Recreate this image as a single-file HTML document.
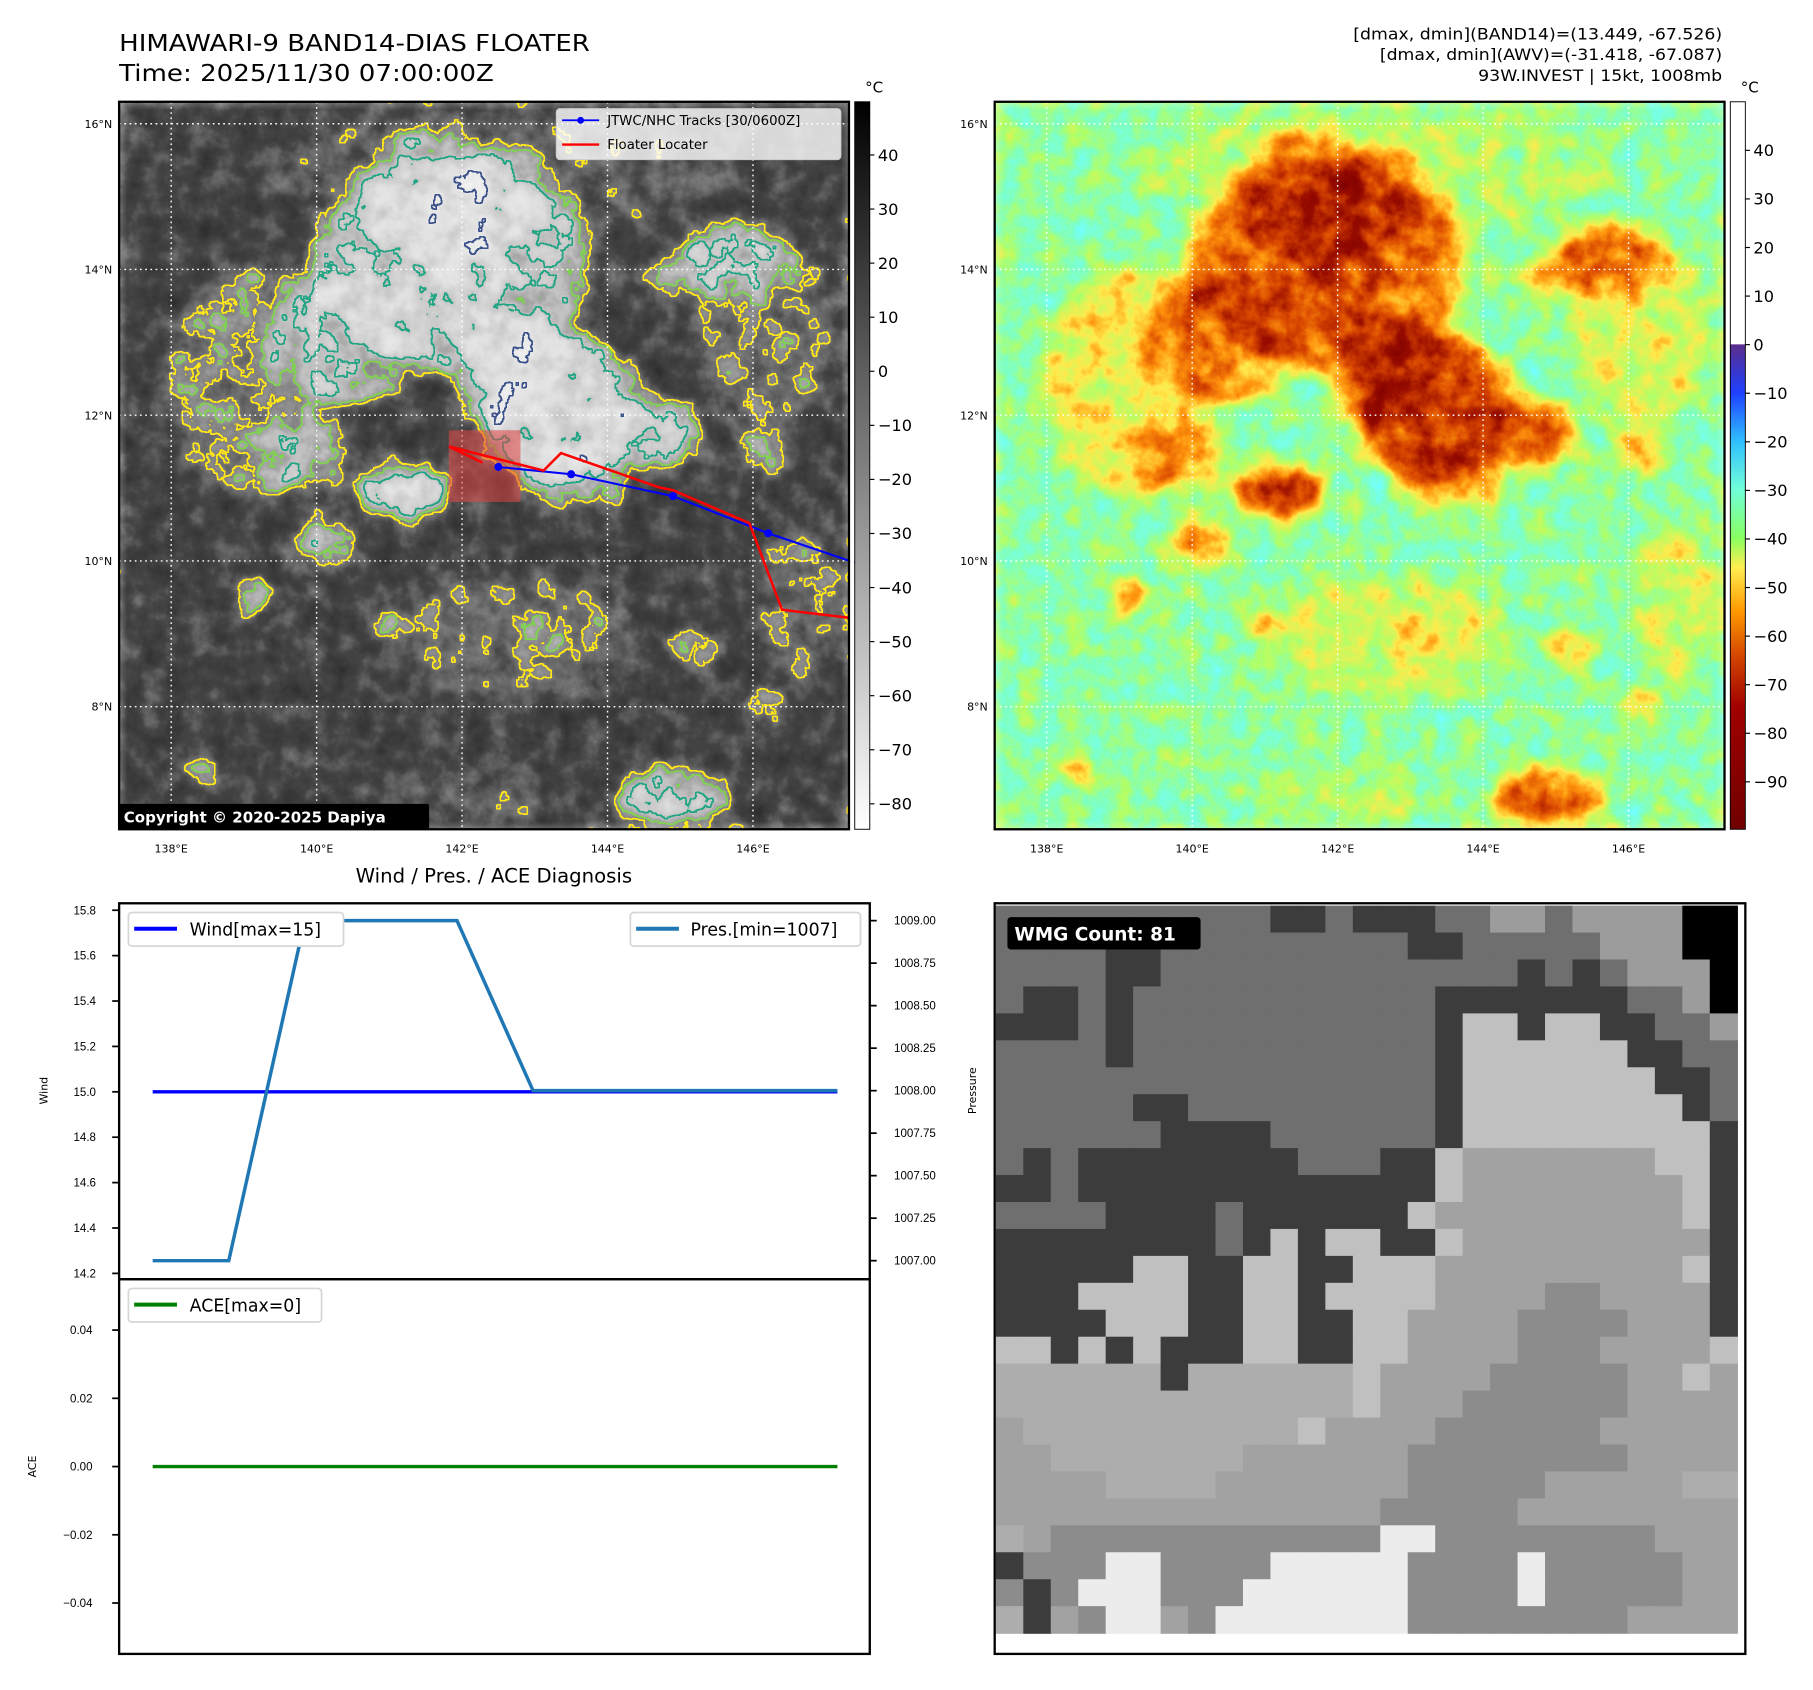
<!DOCTYPE html>
<html><head><meta charset="utf-8"><style>
html,body{margin:0;padding:0;background:#fff;}
svg{display:block;font-family:"DejaVu Sans","Liberation Sans",sans-serif;}
</style></head><body>
<svg id="root" width="1813" height="1690" viewBox="0 0 1567.5 1461.2" preserveAspectRatio="none" xmlns="http://www.w3.org/2000/svg">
<defs>
<linearGradient id="cbGray" x1="0" y1="0" x2="0" y2="1">
<stop offset="0" stop-color="#000"/><stop offset="1" stop-color="#fff"/>
</linearGradient>
<linearGradient id="cbColor" x1="0" y1="0" x2="0" y2="1">
<stop offset="0" stop-color="#fff"/><stop offset="0.333" stop-color="#fff"/>
<stop offset="0.334" stop-color="#5a2d8c"/><stop offset="0.4" stop-color="#1e40ff"/>
<stop offset="0.467" stop-color="#30c0ff"/><stop offset="0.533" stop-color="#70ffd8"/>
<stop offset="0.6" stop-color="#88ff60"/><stop offset="0.64" stop-color="#ffee50"/>
<stop offset="0.7" stop-color="#ff9a00"/><stop offset="0.767" stop-color="#d04000"/>
<stop offset="0.833" stop-color="#a00000"/><stop offset="1" stop-color="#700000"/>
</linearGradient>
<g id="field">
<rect x="0" y="0" width="631" height="629" fill="#000"/>
<g fill="#fff">
<ellipse cx="287" cy="142" rx="120" ry="90" fill-opacity="0.6"/>
<ellipse cx="267" cy="82" rx="60" ry="55" fill-opacity="0.5"/>
<ellipse cx="327" cy="82" rx="50" ry="45" fill-opacity="0.45"/>
<ellipse cx="197" cy="202" rx="70" ry="60" fill-opacity="0.45"/>
<ellipse cx="300" cy="150" rx="35" ry="40" fill-opacity="0.5"/>
<ellipse cx="377" cy="262" rx="70" ry="65" fill-opacity="0.75"/>
<ellipse cx="337" cy="232" rx="50" ry="45" fill-opacity="0.5"/>
<ellipse cx="397" cy="322" rx="45" ry="30" fill-opacity="0.5"/>
<ellipse cx="467" cy="287" rx="35" ry="30" fill-opacity="0.7"/>
<ellipse cx="247" cy="337" rx="40" ry="22" fill-opacity="0.8"/>
<ellipse cx="537" cy="137" rx="50" ry="30" fill-opacity="0.45"/>
<ellipse cx="487" cy="152" rx="30" ry="25" fill-opacity="0.4"/>
<ellipse cx="517" cy="122" rx="25" ry="18" fill-opacity="0.4"/>
<ellipse cx="557" cy="302" rx="20" ry="20" fill-opacity="0.45"/>
<ellipse cx="477" cy="602" rx="50" ry="25" fill-opacity="0.65"/>
<ellipse cx="117" cy="427" rx="15" ry="12" fill-opacity="0.8"/>
<ellipse cx="72" cy="577" rx="14" ry="10" fill-opacity="0.7"/>
<ellipse cx="157" cy="307" rx="40" ry="30" fill-opacity="0.4"/>
<ellipse cx="177" cy="382" rx="30" ry="20" fill-opacity="0.5"/>
<ellipse cx="367" cy="462" rx="15" ry="12" fill-opacity="0.45"/>
<ellipse cx="497" cy="472" rx="20" ry="15" fill-opacity="0.45"/>
<ellipse cx="227" cy="452" rx="15" ry="10" fill-opacity="0.4"/>
<ellipse cx="557" cy="522" rx="15" ry="12" fill-opacity="0.45"/>
<ellipse cx="120" cy="242" rx="80" ry="100" fill-opacity="0.3"/>
<ellipse cx="340" cy="462" rx="110" ry="55" fill-opacity="0.22"/>
<ellipse cx="560" cy="200" rx="60" ry="80" fill-opacity="0.25"/>
<ellipse cx="590" cy="430" rx="40" ry="70" fill-opacity="0.22"/>
<ellipse cx="300" cy="600" rx="80" ry="25" fill-opacity="0.15"/>
<ellipse cx="330" cy="60" rx="200" ry="60" fill-opacity="0.15"/>
</g>
</g>
<filter id="fGray" filterUnits="userSpaceOnUse" x="0" y="0" width="631" height="629" color-interpolation-filters="sRGB">
<feGaussianBlur in="SourceGraphic" stdDeviation="8" result="b"/>
<feTurbulence type="fractalNoise" baseFrequency="0.05" numOctaves="4" seed="3" result="n0"/>
<feColorMatrix in="n0" type="matrix" values="1 0 0 0 0 1 0 0 0 0 1 0 0 0 0 0 0 0 0 1" result="n"/>
<feComposite in="b" in2="n" operator="arithmetic" k1="0" k2="0.72" k3="0.45" k4="-0.04" result="f"/>
<feComponentTransfer in="f" result="g">
<feFuncR type="table" tableValues="0.18 0.27 0.5 0.75 0.88 0.95"/>
<feFuncG type="table" tableValues="0.18 0.27 0.5 0.75 0.88 0.95"/>
<feFuncB type="table" tableValues="0.18 0.27 0.5 0.75 0.88 0.95"/>
</feComponentTransfer>
<feColorMatrix in="f" type="matrix" values="0 0 0 0 0 0 0 0 0 0 0 0 0 0 0 1 0 0 0 0" result="fa"/>
<feComponentTransfer in="fa" result="m1"><feFuncA type="discrete" tableValues="0 0 0 0 0 0 0 0 1 1 1 1 1 1 1 1 1 1 1 1"/></feComponentTransfer>
<feMorphology in="m1" operator="dilate" radius="1.3" result="d1"/>
<feComposite in="d1" in2="m1" operator="out" result="r1"/>
<feFlood flood-color="#ffe619"/><feComposite in2="r1" operator="in" result="c1"/>
<feComponentTransfer in="fa" result="m2"><feFuncA type="discrete" tableValues="0 0 0 0 0 0 0 0 0 0 1 1 1 1 1 1 1 1 1 1"/></feComponentTransfer>
<feMorphology in="m2" operator="dilate" radius="1.1" result="d2"/>
<feComposite in="d2" in2="m2" operator="out" result="r2"/>
<feFlood flood-color="#7fd34e"/><feComposite in2="r2" operator="in" result="c2"/>
<feComponentTransfer in="fa" result="m3"><feFuncA type="discrete" tableValues="0 0 0 0 0 0 0 0 0 0 0 0 0 1 1 1 1 1 1 1"/></feComponentTransfer>
<feMorphology in="m3" operator="dilate" radius="1.1" result="d3"/>
<feComposite in="d3" in2="m3" operator="out" result="r3"/>
<feFlood flood-color="#21a585"/><feComposite in2="r3" operator="in" result="c3"/>
<feComponentTransfer in="fa" result="m4"><feFuncA type="discrete" tableValues="0 0 0 0 0 0 0 0 0 0 0 0 0 0 0 0 0 0 1 1"/></feComponentTransfer>
<feMorphology in="m4" operator="dilate" radius="1.1" result="d4"/>
<feComposite in="d4" in2="m4" operator="out" result="r4"/>
<feFlood flood-color="#3b528b"/><feComposite in2="r4" operator="in" result="c4"/>
<feMerge><feMergeNode in="g"/><feMergeNode in="c1"/><feMergeNode in="c2"/><feMergeNode in="c3"/><feMergeNode in="c4"/></feMerge>
</filter>
<filter id="fColor" filterUnits="userSpaceOnUse" x="0" y="0" width="631" height="629" color-interpolation-filters="sRGB">
<feGaussianBlur in="SourceGraphic" stdDeviation="8" result="b"/>
<feTurbulence type="fractalNoise" baseFrequency="0.05" numOctaves="4" seed="3" result="n0"/>
<feColorMatrix in="n0" type="matrix" values="1 0 0 0 0 1 0 0 0 0 1 0 0 0 0 0 0 0 0 1" result="n"/>
<feComposite in="b" in2="n" operator="arithmetic" k1="0" k2="0.72" k3="0.45" k4="-0.04" result="f"/>
<feComponentTransfer in="f">
<feFuncR type="table" tableValues="0.45 0.5 0.7 1 1 0.85 0.6 0.5"/>
<feFuncG type="table" tableValues="1 1 1 0.92 0.58 0.28 0.05 0"/>
<feFuncB type="table" tableValues="1 0.75 0.4 0.3 0.05 0 0 0"/>
</feComponentTransfer>
</filter>
</defs>

<text x="103" y="44" font-size="20" textLength="407" lengthAdjust="spacingAndGlyphs" fill="#000">HIMAWARI-9 BAND14-DIAS FLOATER</text>
<text x="103" y="70" font-size="20" textLength="324" lengthAdjust="spacingAndGlyphs" fill="#000">Time: 2025/11/30 07:00:00Z</text>
<g font-size="13.5" fill="#000">
<text x="1170" y="34" textLength="319" lengthAdjust="spacingAndGlyphs">[dmax, dmin](BAND14)=(13.449, -67.526)</text>
<text x="1193" y="52" textLength="296" lengthAdjust="spacingAndGlyphs">[dmax, dmin](AWV)=(-31.418, -67.087)</text>
<text x="1278" y="70" textLength="211" lengthAdjust="spacingAndGlyphs">93W.INVEST | 15kt, 1008mb</text>
</g>

<g transform="translate(103,88)">
<g filter="url(#fGray)"><use href="#field"/></g>
<g id="gridL" stroke="#fff" stroke-width="1.2" stroke-dasharray="1.5 3"></g>
</g>
<rect x="388" y="372" width="62" height="62" fill="rgba(225,70,70,0.55)"/>
<g id="tracks"></g>
<rect x="103" y="88" width="631" height="629" fill="none" stroke="#000" stroke-width="2"/>
<g>
<rect x="481" y="94" width="246" height="44" rx="3" fill="#fff" fill-opacity="0.8" stroke="#ccc"/>
<line x1="486" y1="104" x2="518" y2="104" stroke="#00f" stroke-width="1.5"/><circle cx="502" cy="104" r="3" fill="#00f"/>
<text x="525" y="108" font-size="11.5">JTWC/NHC Tracks [30/0600Z]</text>
<line x1="486" y1="125" x2="518" y2="125" stroke="#f00" stroke-width="2"/>
<text x="525" y="129" font-size="11.5">Floater Locater</text>
</g>
<g>
<rect x="103" y="695" width="268" height="22" rx="2" fill="#000"/>
<text x="107" y="711" font-size="13" font-weight="bold" fill="#fff">Copyright © 2020-2025 Dapiya</text>
</g>

<g transform="translate(860,88)">
<g filter="url(#fColor)"><use href="#field"/></g>
<g id="gridR" stroke="#fff" stroke-width="1.2" stroke-dasharray="1.5 3"></g>
</g>
<rect x="860" y="88" width="631" height="629" fill="none" stroke="#000" stroke-width="2"/>

<rect x="739" y="88" width="13" height="629" fill="url(#cbGray)" stroke="#000" stroke-width="0.8"/>
<text x="748" y="80" font-size="13">°C</text>
<rect x="1496" y="88" width="13" height="629" fill="url(#cbColor)" stroke="#000" stroke-width="0.8"/>
<text x="1505" y="80" font-size="13">°C</text>
<g id="cbTicks" font-size="14" fill="#000"></g>
<g id="mapLabels" font-size="9.5" fill="#000"></g>

<text x="427" y="763" font-size="17" text-anchor="middle">Wind / Pres. / ACE Diagnosis</text>
<g id="diag"></g>
<rect x="103" y="781" width="649" height="325" fill="none" stroke="#000" stroke-width="2"/>
<rect x="103" y="1106" width="649" height="324" fill="none" stroke="#000" stroke-width="2"/>
<text transform="translate(41,943) rotate(-90)" font-size="9.5" text-anchor="middle">Wind</text>
<text transform="translate(844,943) rotate(-90)" font-size="9.5" text-anchor="middle">Pressure</text>
<text transform="translate(31,1268) rotate(-90)" font-size="9.5" text-anchor="middle">ACE</text>
<g>
<rect x="111" y="789" width="186" height="29" rx="3" fill="#fff" stroke="#d6d6d6" stroke-width="1.5"/>
<line x1="116" y1="803" x2="153" y2="803" stroke="#00f" stroke-width="3.5"/>
<text x="164" y="809" font-size="15">Wind[max=15]</text>
</g>
<g>
<rect x="545" y="789" width="199" height="29" rx="3" fill="#fff" stroke="#d6d6d6" stroke-width="1.5"/>
<line x1="550" y1="803" x2="587" y2="803" stroke="#1f77b4" stroke-width="3.5"/>
<text x="597" y="809" font-size="15">Pres.[min=1007]</text>
</g>
<g>
<rect x="111" y="1114" width="167" height="29" rx="3" fill="#fff" stroke="#d6d6d6" stroke-width="1.5"/>
<line x1="116" y1="1128" x2="153" y2="1128" stroke="#008000" stroke-width="3.5"/>
<text x="164" y="1134" font-size="15">ACE[max=0]</text>
</g>

<g id="wmg"></g>
<rect x="860" y="781" width="649" height="649" fill="none" stroke="#000" stroke-width="2"/>
<g>
<rect x="871" y="793" width="167" height="28" rx="3" fill="#000"/>
<text x="877" y="813" font-size="16" font-weight="bold" fill="#fff">WMG Count: 81</text>
</g>
</svg>
<script>
const NS = "http://www.w3.org/2000/svg";
// ---- chart data ----
const times = [0,1,2,3,4,5,6,7,8,9];
const windValues = [15,15,15,15,15,15,15,15,15,15];
const pressureValues = [1007,1007,1009,1009,1009,1008,1008,1008,1008,1008];
const aceValues = [0,0,0,0,0,0,0,0,0,0];
const windTicks = [14.2,14.4,14.6,14.8,15.0,15.2,15.4,15.6,15.8];
const pressureTicks = [1007.00,1007.25,1007.50,1007.75,1008.00,1008.25,1008.50,1008.75,1009.00];
const aceTicks = [-0.04,-0.02,0.00,0.02,0.04];
const lonTicks = [138,140,142,144,146];
const latTicks = [8,10,12,14,16];
const grayCbTicks = [40,30,20,10,0,-10,-20,-30,-40,-50,-60,-70,-80];
const colorCbTicks = [40,30,20,10,0,-10,-20,-30,-40,-50,-60,-70,-80,-90];
const trackLon = [142.50,143.50,144.90,146.21,147.42];
const trackLat = [11.29,11.19,10.89,10.38,9.97];
const locLon = [141.82,143.12,143.36,144.71,144.90,145.95,146.40,147.32];
const locLat = [11.57,11.24,11.48,11.01,10.97,10.52,9.33,9.22];
const locBranchLon = [141.82,142.28];
const locBranchLat = [11.57,11.35];
// ---- axes ----
const xT = i => 132 + i*65.78;
const yW = v => 787 + (15.8 - v)/0.2*39.25;
const yP = p => 796 + (1009 - p)/0.25*36.75;
const yA = v => 1268 - v/0.02*59;
const lonX = lon => 148 + (lon-138)*62.875;
const latY = lat => 107 + (16-lat)*63;
const cbGrayY = v => 134 + (40 - v)*4.675;
const cbColY = v => 298 - v*4.2;
const fmtNeg = s => s.replace('-', '\u2212');
function mk(tag, attrs, parent){const e=document.createElementNS(NS,tag);for(const k in attrs)e.setAttribute(k,attrs[k]);parent.appendChild(e);return e;}

for (const gid of ['gridL','gridR']) {
  const g = document.getElementById(gid);
  lonTicks.forEach(l=>{const x=lonX(l)-103; const e=mk('line',{x1:x,y1:0,x2:x,y2:629},g);
    
    });
  latTicks.forEach(l=>{const y=latY(l)-88; const e=mk('line',{x1:0,y1:y,x2:631,y2:y},g);
    
    });
}
const ml = document.getElementById('mapLabels');
for (const off of [0,757]) {
  lonTicks.forEach(l=>{const t=mk('text',{x:lonX(l)+off,y:737,'text-anchor':'middle'},ml);t.textContent=l+'°E';
    
    });
  latTicks.forEach(l=>{const t=mk('text',{x:97+off,y:latY(l)+3.5,'text-anchor':'end'},ml);t.textContent=l+'°N';
    
    });
}
const cbt = document.getElementById('cbTicks');
grayCbTicks.forEach(v=>{const y=cbGrayY(v);mk('line',{x1:752,y1:y,x2:756,y2:y,stroke:'#000'},cbt);
  const t=mk('text',{x:759,y:y+5},cbt);t.textContent=fmtNeg(String(v));
  
  });
colorCbTicks.forEach(v=>{const y=cbColY(v);mk('line',{x1:1509,y1:y,x2:1513,y2:y,stroke:'#000'},cbt);
  const t=mk('text',{x:1516,y:y+5},cbt);t.textContent=fmtNeg(String(v));
  
  });
const tr = document.getElementById('tracks');
const bl = mk('polyline',{points:trackLon.map((l,i)=>lonX(l)+','+latY(trackLat[i])).join(' '),fill:'none',stroke:'#00f','stroke-width':1.8},tr);


trackLon.slice(0,4).forEach((l,i)=>{const c=mk('circle',{cx:lonX(l),cy:latY(trackLat[i]),r:3.5,fill:'#00f'},tr);
  
  });
const rl = mk('polyline',{points:locLon.map((l,i)=>lonX(l)+','+latY(locLat[i])).join(' '),fill:'none',stroke:'#f00','stroke-width':2.2},tr);


const rb = mk('polyline',{points:locBranchLon.map((l,i)=>lonX(l)+','+latY(locBranchLat[i])).join(' '),fill:'none',stroke:'#f00','stroke-width':2.2},tr);


mk('rect',{x:735,y:88,width:3.5,height:629,fill:'#fff'},tr);

const dg = document.getElementById('diag');
const tickFont = 'Liberation Sans Narrow, Liberation Sans, sans-serif';
windTicks.forEach(v=>{const y=yW(v);mk('line',{x1:97,y1:y,x2:103,y2:y,stroke:'#000','stroke-width':1.5},dg);
  const t=mk('text',{x:83,y:y+3.5,'font-size':10,'text-anchor':'end','font-family':tickFont},dg);t.textContent=v.toFixed(1);
  
  });
pressureTicks.forEach(v=>{const y=yP(v);mk('line',{x1:752,y1:y,x2:758,y2:y,stroke:'#000','stroke-width':1.5},dg);
  const t=mk('text',{x:773,y:y+3.5,'font-size':10,'font-family':tickFont},dg);t.textContent=v.toFixed(2);
  
  });
aceTicks.forEach(v=>{const y=yA(v);mk('line',{x1:97,y1:y,x2:103,y2:y,stroke:'#000','stroke-width':1.5},dg);
  const t=mk('text',{x:80,y:y+3.5,'font-size':10,'text-anchor':'end','font-family':tickFont},dg);t.textContent=fmtNeg(v.toFixed(2));
  
  });
const wl = mk('polyline',{points:times.map((t,i)=>xT(t)+','+yW(windValues[i])).join(' '),fill:'none',stroke:'#00f','stroke-width':3},dg);


const pl = mk('polyline',{points:times.map((t,i)=>xT(t)+','+yP(pressureValues[i])).join(' '),fill:'none',stroke:'#1f77b4','stroke-width':3},dg);


const al = mk('polyline',{points:times.map((t,i)=>xT(t)+','+yA(aceValues[i])).join(' '),fill:'none',stroke:'#008000','stroke-width':3},dg);



const wmgRows = [
"mmmmmmmmmmddmdddmmppmppppkk",
"mmmmddmmmmmmmmmddmmmmmpppkk",
"mmmmddmmmmmmmmmmmmmdmdmpppk",
"mddmdmmmmmmmmmmmdddddddmmpk",
"dddmdmmmmmmmmmmmdLLdLLddmmp",
"mmmmdmmmmmmmmmmmdLLLLLLddmm",
"mmmmmmmmmmmmmmmmdLLLLLLLddm",
"mmmmmddmmmmmmmmmdLLLLLLLLdm",
"mmmmmmddddmmmmmmdLLLLLLLLLd",
"mdmddddddddmmmddLgggggggLLd",
"ddmdddddddddddddLggggggggLd",
"mmmmddddmddddddLgggggggggLd",
"ddddddddmdLdLLddLgggggggggd",
"dddddLLddLLddLLLgggggggggLd",
"dddLLLLddLLdLLLLggggnnggggd",
"ddddLLLddLLddLLggggnnnngggd",
"LLdLdLdddLLddLLggggnnnggggL",
"lllllldllllllLggggnnnnnggLg",
"lllllllllllllLgggnnnnnngggg",
"gllllllllllLggggnnnnnnggggg",
"gglllllllggggggnnnnnnnngggg",
"ggggllllgggggggnnnnngggggll",
"ggggggggggggggnnnnngggggggg",
"lgnnnnnnnnnnnnwwnnnnnnnnggg",
"dnnnwwnnnnwwwwwnnnnwnnnnngg",
"ndnwwwnnnwwwwwwnnnnwnnnnngg",
"ldgnwwgnwwwwwwwnnnnnnnngggg"];
const wmgColors = {k:'#000',d:'#3c3c3c',m:'#6f6f6f',p:'#9c9c9c',L:'#c0c0c0',l:'#adadad',g:'#a2a2a2',n:'#8c8c8c',w:'#ececec'};
const wg = document.getElementById('wmg');
const cw = (1502-861)/27, ch = (1412-783)/27;
mk('rect',{x:861,y:783,width:647,height:646,fill:'#fff'},wg);
wmgRows.forEach((row,r)=>{[...row].forEach((c,k)=>{
  mk('rect',{x:(861+k*cw).toFixed(2),y:(783+r*ch).toFixed(2),width:(cw+0.6).toFixed(2),height:(ch+0.6).toFixed(2),fill:wmgColors[c]||'#888'},wg);
});});
</script>
</body></html>
